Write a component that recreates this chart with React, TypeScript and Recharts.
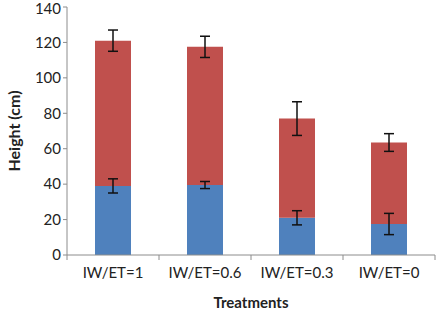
import React from "react";
import { BarChart, Bar, XAxis, YAxis, ErrorBar } from "recharts";

const treatments = ["IW/ET=1", "IW/ET=0.6", "IW/ET=0.3", "IW/ET=0"];
const lower = [39, 39.5, 21, 17.5];
const lowerErr = [4, 2, 4, 6];
const total = [121, 117.5, 77, 63.5];
const totalErr = [6, 6, 9.5, 5];
const yTicks = [0, 20, 40, 60, 80, 100, 120, 140];

const data = treatments.map((name, i) => ({
  name,
  lower: lower[i],
  lowerErr: lowerErr[i],
  upper: total[i] - lower[i],
  upperErr: totalErr[i],
}));

const FONT = "Lato, 'Open Sans', sans-serif";

// category label plus Excel-style tick marks on the category boundaries
const CategoryTick = (props: any) => {
  const { x, y, payload, index } = props;
  const half = payload.offset || 0;
  const last = index === treatments.length - 1;
  return (
    <g>
      <line x1={x - half} x2={x - half} y1={y} y2={y + 5} stroke="#8c8c8c" />
      {last && <line x1={x + half} x2={x + half} y1={y} y2={y + 5} stroke="#8c8c8c" />}
      <text
        x={x}
        y={y + 12}
        dy="0.71em"
        textAnchor="middle"
        fill="#222"
        fontSize={15}
        fontFamily={FONT}
      >
        {payload.value}
      </text>
    </g>
  );
};

const App = () => {
  return (
    <div style={{ position: "absolute", left: 0, top: 0 }}>
      <BarChart
        width={439}
        height={312}
        data={data}
        margin={{ top: 7, right: 4, left: 0, bottom: 0 }}
      >
        <XAxis
          dataKey="name"
          height={57}
          tickLine={false}
          tickSize={0}
          tickMargin={0}
          stroke="#8c8c8c"
          tick={<CategoryTick />}
          label={{
            value: "Treatments",
            position: "insideBottom",
            offset: 4,
            fill: "#222",
            fontSize: 15,
            fontWeight: 700,
            fontFamily: FONT,
          }}
        />
        <YAxis
          width={67}
          domain={[0, 140]}
          ticks={yTicks}
          stroke="#8c8c8c"
          tickSize={4}
          tick={{ fill: "#222", fontSize: 15, fontFamily: FONT }}
          label={{
            value: "Height (cm)",
            angle: -90,
            position: "center",
            dx: -19,
            fill: "#222",
            fontSize: 16,
            fontWeight: 700,
            fontFamily: FONT,
          }}
        />
        <Bar dataKey="lower" stackId="a" fill="#4F81BD" barSize={36} isAnimationActive={false}>
          <ErrorBar dataKey="lowerErr" width={5} stroke="#111" strokeWidth={1.5} />
        </Bar>
        <Bar dataKey="upper" stackId="a" fill="#C0504D" barSize={36} isAnimationActive={false}>
          <ErrorBar dataKey="upperErr" width={5} stroke="#111" strokeWidth={1.5} />
        </Bar>
      </BarChart>
    </div>
  );
};

export default App;
